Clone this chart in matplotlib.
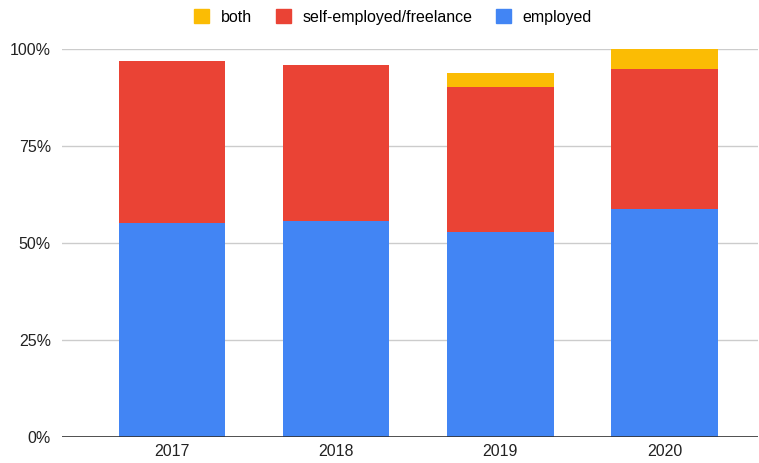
"""
Employment type by year, stacked share bars.
"""
import numpy as np
import matplotlib.pyplot as plt
import matplotlib.patches as mpatches
from matplotlib.ticker import FuncFormatter

plt.rcParams['font.family'] = ['Liberation Sans', 'DejaVu Sans']

years = ['2017', '2018', '2019', '2020']
employed = [55.1, 55.7, 53.0, 58.9]
self_employed = [41.9, 40.3, 37.2, 36.1]
both = [0.0, 0.0, 3.8, 5.0]
yticks = [0, 25, 50, 75, 100]

c_emp = '#4285F4'
c_self = '#EA4335'
c_both = '#FBBC04'

fig = plt.figure(figsize=(7.59, 4.63), dpi=100)
ax = fig.add_axes([62 / 759, 26 / 463, 696 / 759, 387.7 / 463])

x = np.arange(len(years))
w = 0.65
emp = np.array(employed)
slf = np.array(self_employed)
ax.bar(x, emp, w, color=c_emp, zorder=3)
ax.bar(x, slf, w, bottom=emp, color=c_self, zorder=3)
ax.bar(x, both, w, bottom=emp + slf, color=c_both, zorder=3)

ax.set_xlim(-0.67, 3.57)
ax.set_ylim(0, 100)
ax.set_yticks(yticks)
ax.yaxis.set_major_formatter(FuncFormatter(lambda v, p: '%d%%' % v))
ax.set_xticks(x)
ax.set_xticklabels(years)
ax.grid(axis='y', color='#cccccc', linewidth=1, zorder=0)
ax.axhline(0, color='#333333', linewidth=1.2, zorder=4)
for s in ax.spines.values():
    s.set_visible(False)
ax.tick_params(length=0, labelsize=11.5, colors='#222222')
ax.tick_params(axis='y', pad=8)
ax.tick_params(axis='x', pad=5)

handles = [mpatches.Patch(color=c_both, label='both'),
           mpatches.Patch(color=c_self, label='self-employed/freelance'),
           mpatches.Patch(color=c_emp, label='employed')]
fig.legend(handles=handles, loc='center', bbox_to_anchor=(393 / 759, 1 - 17 / 463),
           ncol=3, frameon=False, fontsize=11.5, handlelength=0.95,
           handleheight=1.0, handletextpad=0.7, columnspacing=1.5)

fig.savefig('out.png', dpi=100)
